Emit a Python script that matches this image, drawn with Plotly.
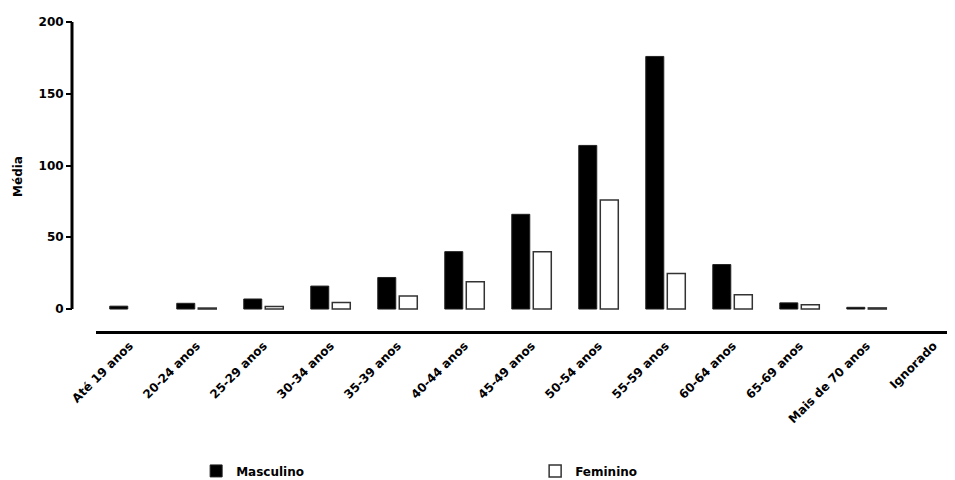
import plotly.graph_objects as go

categories = ["Até 19 anos", "20-24 anos", "25-29 anos", "30-34 anos", "35-39 anos",
              "40-44 anos", "45-49 anos", "50-54 anos", "55-59 anos", "60-64 anos",
              "65-69 anos", "Mais de 70 anos", "Ignorado"]
masculino = [2, 4, 7, 16, 22, 40, 66, 114, 176, 31, 4.3, 1.2, None]
feminino = [None, 0.7, 1.8, 4.5, 9, 19, 40, 76, 24.7, 10, 3, 0.8, None]
y_ticks = [0, 50, 100, 150, 200]

FONT = "DejaVu Sans, Liberation Sans, Arial, sans-serif"

fig = go.Figure()
fig.add_trace(go.Bar(
    x=categories, y=masculino, name="Masculino",
    marker=dict(color="black", line=dict(color="#222", width=1)),
))
fig.add_trace(go.Bar(
    x=categories, y=feminino, name="Feminino",
    marker=dict(color="white", line=dict(color="#333", width=1.5)),
))

# page has an 8px body margin; compensate
OFF = 8
W, H = 955, 480
ml, mr, mt, mb = 52, 0, 22 - OFF, 480 - (331 - OFF)
pw = W - ml - mr
y_pos = (72 - OFF - ml) / pw
x_start = (96 - OFF - ml) / pw
x_end_units = 12.32 + 8 / 67.0

fig.update_layout(
    width=W, height=H,
    margin=dict(l=ml, r=mr, t=mt, b=mb, autoexpand=False),
    paper_bgcolor="white", plot_bgcolor="white",
    barmode="group", bargap=0.358, bargroupgap=0.163,
    font=dict(family=FONT, size=12, color="black"),
    xaxis=dict(
        domain=[x_start, 1], range=[-0.5, x_end_units], automargin=False,
        showline=True, linecolor="black", linewidth=3,
        ticks="", tickangle=-45, showgrid=False,
        tickfont=dict(family=FONT, size=12, color="black", weight="bold"),
    ),
    yaxis=dict(
        anchor="free", position=y_pos, automargin=False,
        range=[-15.3, 200], tickvals=y_ticks,
        showline=False, showgrid=False, zeroline=False,
        ticks="outside", ticklen=6, tickwidth=2, tickcolor="black",
        tickfont=dict(family=FONT, size=12, color="black", weight="bold"),
        title=dict(text="Média", standoff=12,
                   font=dict(family=FONT, size=12, color="black", weight="bold")),
    ),
    legend=dict(
        orientation="h", xref="container", yref="container",
        x=0.197, y=0.0356, xanchor="left", yanchor="middle",
        entrywidth=294, entrywidthmode="pixels",
        font=dict(family=FONT, size=12, color="black", weight="bold"),
        itemwidth=30,
    ),
    shapes=[dict(type="line", xref="paper", yref="y",
                 x0=y_pos, x1=y_pos, y0=0, y1=200,
                 line=dict(color="black", width=3))],
)

fig.write_html("out.html")
